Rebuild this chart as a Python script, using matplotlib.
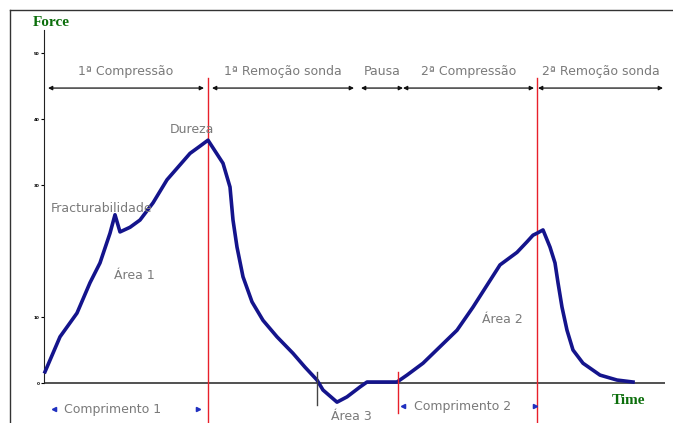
import matplotlib.pyplot as plt
from matplotlib.lines import Line2D

# texture profile curve (time units, force units)
time = [0.1, 1.6, 3.3, 4.6, 5.6, 6.6, 7.1, 7.6, 8.6, 9.6, 10.9, 12.3, 14.6, 15.6,
        16.4, 17.9, 18.6, 18.9, 19.3, 19.9, 20.8, 21.9, 23.3, 24.9, 26.1, 27.3,
        27.9, 29.3, 30.3, 31.6, 32.3, 35.3, 36.3, 37.9, 39.6, 41.3, 42.9, 45.6,
        47.3, 48.3, 48.9, 49.3, 49.9, 50.6, 51.1, 51.4, 51.8, 52.3, 52.9, 53.9,
        55.6, 57.3, 58.9]
force = [1.7, 7.0, 10.6, 15.2, 18.2, 22.7, 25.5, 22.9, 23.6, 24.7, 27.3, 30.8,
         34.8, 35.9, 36.8, 33.3, 29.7, 24.7, 20.6, 16.1, 12.3, 9.5, 7.0, 4.5,
         2.4, 0.45, -1.06, -2.9, -2.1, -0.6, 0.15, 0.15, 1.2, 3.0, 5.5, 8.0,
         11.5, 17.9, 19.8, 21.4, 22.4, 22.7, 23.2, 20.6, 18.2, 15.2, 11.5, 8.0,
         5.0, 3.0, 1.2, 0.45, 0.15]

y_ticks = [0, 10, 30, 40, 50]
y_tick_labels = ['0', '10', '30', '40', '50']

# phases: (start, end, label)
phases = [(0.4, 16.0, '1ª Compressão'),
          (16.8, 31.0, '1ª Remoção sonda'),
          (31.7, 35.9, 'Pausa'),
          (35.9, 49.0, '2ª Compressão'),
          (49.4, 61.9, '2ª Remoção sonda')]
red_lines = [16.4, 35.4, 49.3]

fig = plt.figure(figsize=(6.73, 4.23), dpi=100)
W, H = 673, 423
ax = fig.add_axes([44 / W, 0, (665 - 44) / W, (423 - 30) / H])
ax.set_xlim(0, 62.1)
ax.set_ylim(-6.06, 53.5)

for s in ['top', 'right', 'bottom']:
    ax.spines[s].set_visible(False)
ax.spines['left'].set_bounds(0, 53.5)
ax.spines['left'].set_color('#222222')
ax.axhline(0, color='#333333', lw=1.2, zorder=1)
ax.set_xticks([])
ax.set_yticks(y_ticks)
ax.set_yticklabels(y_tick_labels, fontsize=3, fontweight='bold')
ax.tick_params(axis='y', length=2, width=0.8, pad=1)

# curve
ax.plot(time, force, color='#14148c', lw=2.6, solid_joinstyle='round', zorder=3, clip_on=False)

# red markers
ax.plot([red_lines[0]] * 2, [46.2, -6.06], color='#e8202a', lw=1, clip_on=False, zorder=2)
ax.plot([red_lines[1]] * 2, [1.7, -4.5], color='#e8202a', lw=1, clip_on=False, zorder=4)
ax.plot([red_lines[2]] * 2, [46.2, -6.06], color='#e8202a', lw=1, clip_on=False, zorder=2)
ax.plot([27.3, 27.3], [1.7, -3.3], color='#444444', lw=1, clip_on=False, zorder=4)

# phase arrows
gray = '#7a7a7a'
for start, end, label in phases:
    ax.annotate('', xy=(end, 44.7), xytext=(start, 44.7),
                arrowprops=dict(arrowstyle='<|-|>', color='#111111', lw=0.9,
                                mutation_scale=6, shrinkA=0, shrinkB=0))
    ax.text((start + end) / 2, 46.3, label, ha='center', va='bottom', fontsize=9, color=gray)

# labels
ax.text(14.8, 37.4, 'Dureza', ha='center', va='bottom', fontsize=9, color=gray)
ax.text(5.8, 25.5, 'Fracturabilidade', ha='center', va='bottom', fontsize=9, color=gray)
ax.text(9.0, 15.3, 'Área 1', ha='center', va='bottom', fontsize=9, color=gray)
ax.text(45.8, 8.6, 'Área 2', ha='center', va='bottom', fontsize=9, color=gray)
ax.text(30.7, -5.1, 'Área 3', ha='center', va='center', fontsize=9, color=gray)
ax.text(2.0, -4.0, 'Comprimento 1', ha='left', va='center', fontsize=9, color=gray)
ax.text(37.0, -3.5, 'Comprimento 2', ha='left', va='center', fontsize=9, color=gray)
ax.plot([1.0], [-4.0], marker='<', color='#2030c0', ms=3, clip_on=False)
ax.plot([15.4], [-4.0], marker='>', color='#2030c0', ms=3, clip_on=False)
ax.plot([35.9], [-3.5], marker='<', color='#2030c0', ms=3, clip_on=False)
ax.plot([49.1], [-3.5], marker='>', color='#2030c0', ms=3, clip_on=False)

green = '#0b6e0b'
fig.text(33 / W, 1 - 23 / H, 'Force', fontsize=11, fontweight='bold', color=green,
         family='Liberation Serif', va='center', ha='left')
fig.text(612 / W, 1 - 400 / H, 'Time', fontsize=11, fontweight='bold', color=green,
         family='Liberation Serif', va='center', ha='left')

# outer frame
fig.add_artist(Line2D([10 / W, 1], [1 - 10 / H, 1 - 10 / H], color='#333333', lw=1))
fig.add_artist(Line2D([10 / W, 10 / W], [0, 1 - 10 / H], color='#333333', lw=1))

fig.savefig('out.png', dpi=100)
